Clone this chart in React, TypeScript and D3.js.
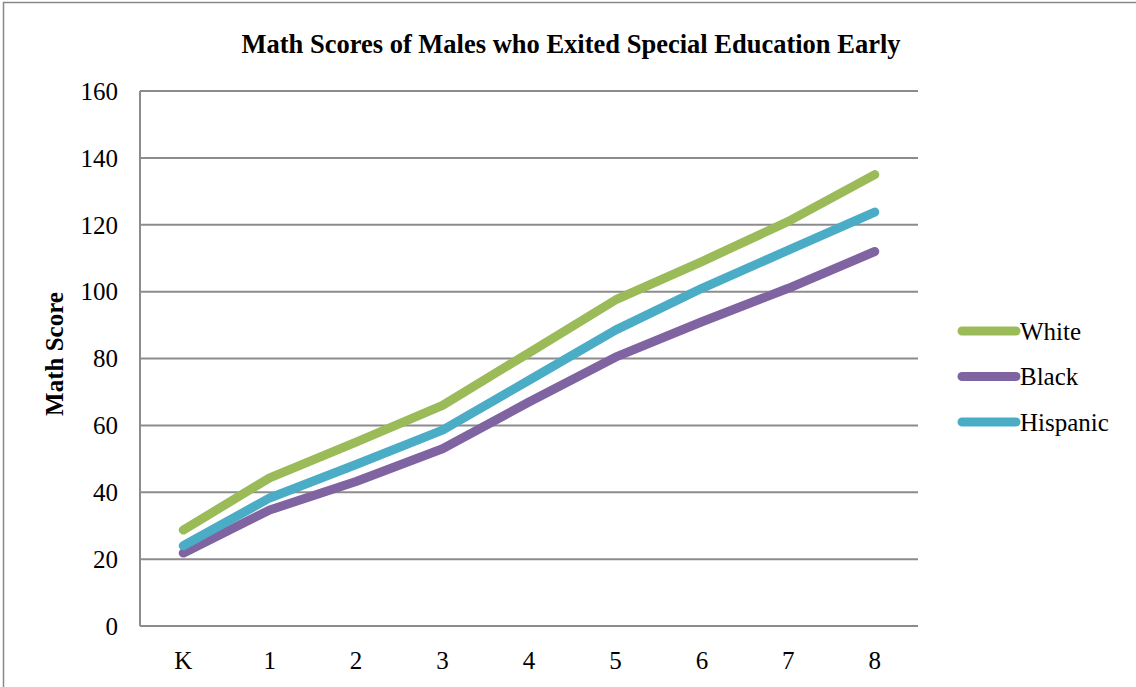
import React from "react";
import * as d3 from "d3";

const grades = ["K", "1", "2", "3", "4", "5", "6", "7", "8"];
const whiteScores = [28.7, 44.3, 55, 66, 81.7, 97.5, 109, 121, 135];
const blackScores = [21.8, 34.7, 43.2, 53, 67, 80.4, 91, 101, 112];
const hispanicScores = [24, 38.3, 48.3, 58.6, 73.5, 88.5, 101, 112.4, 123.8];
const yTicks = [0, 20, 40, 60, 80, 100, 120, 140, 160];

const series = [
  { name: "White", values: whiteScores, color: "#9BBB59" },
  { name: "Black", values: blackScores, color: "#8064A2" },
  { name: "Hispanic", values: hispanicScores, color: "#4BACC6" },
];

const App: React.FC = () => {
  const width = 1136;
  const height = 687;
  const margin = { top: 91, right: 218, bottom: 61, left: 140 };
  const plotW = width - margin.left - margin.right;
  const plotH = height - margin.top - margin.bottom;

  const x = d3.scalePoint<string>().domain(grades).range([0, plotW]).padding(0.5);
  const y = d3.scaleLinear().domain([0, 160]).range([plotH, 0]);

  const line = d3
    .line<number>()
    .x((_, i) => x(grades[i]) || 0)
    .y((d) => y(d));

  const font = "'Liberation Serif', 'Times New Roman', serif";

  return (
    <svg
      width={width}
      height={height}
      style={{ position: "absolute", left: 0, top: 0, background: "#fff" }}
      fontFamily={font}
    >
      {/* outer frame */}
      <rect x={3.5} y={2.5} width={1200} height={800} fill="none" stroke="#888" strokeWidth={1.5} />

      <text x={571} y={53} textAnchor="middle" fontSize={26.5} fontWeight="bold">
        Math Scores of Males who Exited Special Education Early
      </text>

      <g transform={`translate(${margin.left},${margin.top})`}>
        {yTicks.map((t) => (
          <g key={t}>
            <line x1={0} x2={plotW} y1={y(t)} y2={y(t)} stroke="#8c8c8c" strokeWidth={2} />
            <text x={-22} y={y(t)} dy="0.35em" textAnchor="end" fontSize={25}>
              {t}
            </text>
          </g>
        ))}
        <line x1={0} x2={0} y1={0} y2={plotH} stroke="#8c8c8c" strokeWidth={2} />

        {grades.map((g) => (
          <text key={g} x={x(g)} y={plotH + 43} textAnchor="middle" fontSize={25}>
            {g}
          </text>
        ))}

        {series.map((s) => (
          <path
            key={s.name}
            d={line(s.values) || ""}
            fill="none"
            stroke={s.color}
            strokeWidth={9}
            strokeLinecap="round"
            strokeLinejoin="round"
          />
        ))}
      </g>

      <text
        transform={`translate(63,354) rotate(-90)`}
        textAnchor="middle"
        fontSize={25}
        fontWeight="bold"
      >
        Math Score
      </text>

      <g transform="translate(962,331)">
        {series.map((s, i) => (
          <g key={s.name} transform={`translate(0,${i * 45.5})`}>
            <line x1={0} x2={54} y1={0} y2={0} stroke={s.color} strokeWidth={9} strokeLinecap="round" />
            <text x={58} y={0} dy="0.35em" fontSize={25}>
              {s.name}
            </text>
          </g>
        ))}
      </g>
    </svg>
  );
};

export default App;
